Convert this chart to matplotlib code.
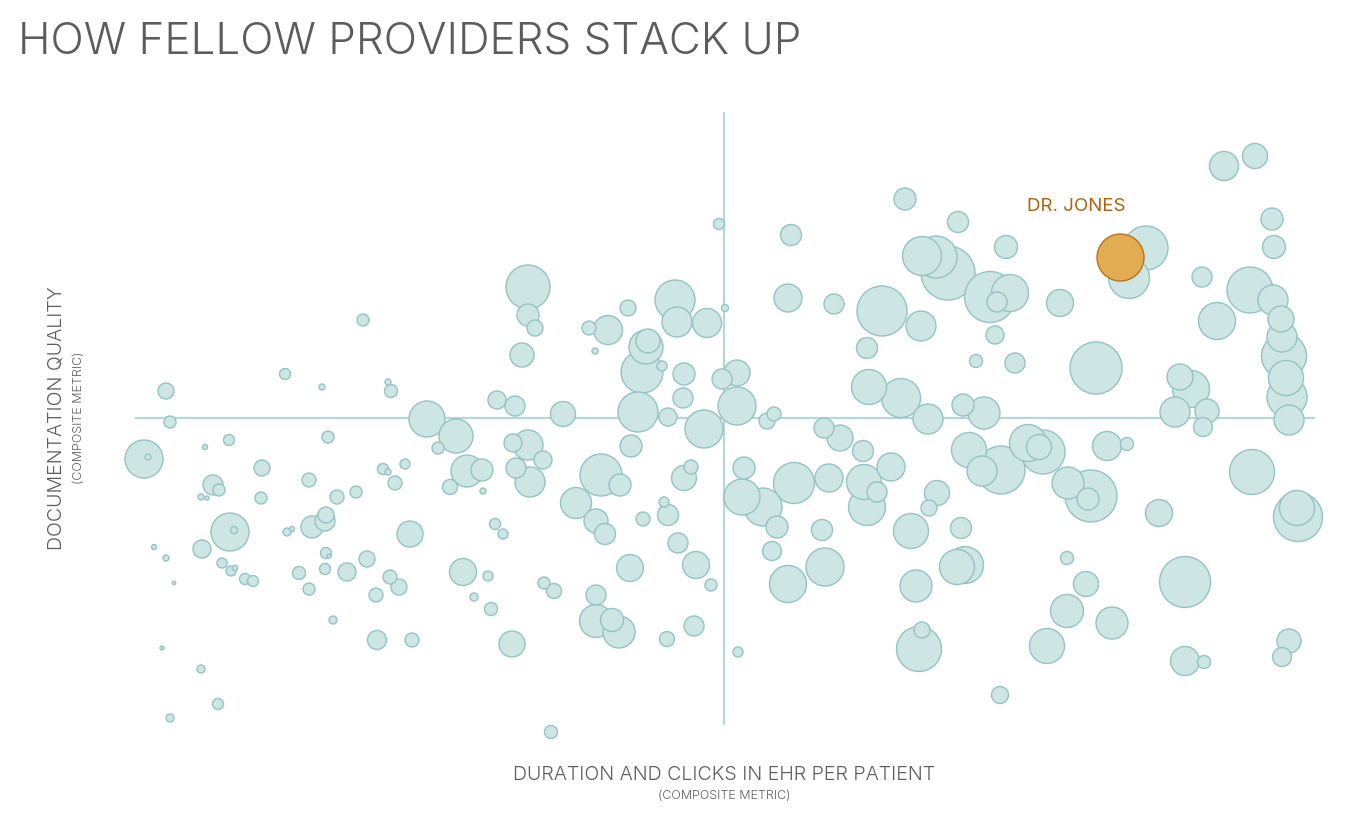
#!/usr/bin/env python3
# -*- coding: utf-8 -*-
"""
Provider comparison bubble chart: EHR effort vs documentation quality.
"""

import numpy as np
import matplotlib
matplotlib.use("Agg")
import matplotlib.pyplot as plt


""" Provider values (composite metrics, centred on the peer median) """
# x : duration and clicks in EHR per patient
ehr_effort = [
    -558, -554, -580, -576, -519, -495, -439, -402, -361, -336,
    -333, -396, -462, -511, -505, -523, -517, -415, -463, -387,
    -368, -341, -336, -319, -329, -297, -268, -286, -257, -242,
    -274, -241, -227, -209, -211, -196, -208, -194, -181, -196,
    -196, -189, -202, -494, -490, -522, -570, -558, -550, -502,
    -493, -489, -479, -471, -562, -523, -506, -554, -437, -432,
    -412, -399, -398, -398, -395, -425, -399, -377, -357, -415,
    -334, -325, -348, -391, -347, -312, -314, -229, -221, -261,
    -236, -250, -233, -212, -5, 1, -96, -135, -116, -129,
    -49, -47, -17, -78, -76, -82, -62, -40, -41, -2,
    13, 13, -20, -56, -86, -161, -93, 43, 50, -123,
    -104, -148, -128, -119, -40, -33, -81, -56, -60, -46,
    -28, -13, -180, -170, -128, -128, -112, -105, -94, -57,
    -30, 14, -173, 67, 64, 110, 181, 234, 282, 198,
    212, 224, 266, 286, 273, 271, 291, 252, 158, 197,
    143, 145, 177, 204, 239, 260, 100, 116, 139, 167,
    140, 153, 143, 105, 70, 20, 18, 39, 53, 98,
    48, 64, 101, 213, 205, 187, 237, 241, 233, 192,
    198, 195, 276, 245, 277, 258, 304, 422, 405, 336,
    372, 500, 531, 548, 550, 478, 526, 549, 493, 557,
    558, 560, 562, 563, 565, 456, 467, 451, 483, 479,
    319, 315, 383, 403, 344, 367, 364, 435, 528, 574,
    573, 343, 362, 343, 388, 323, 461, 461, 480, 565,
    558,
]
# y : documentation quality
doc_quality = [
    27, -4, -41, -39, -29, -22, 44, 31, 98, 36,
    27, -19, -50, -67, -72, -79, -80, -62, -80, -79,
    -74, -51, -54, -46, -65, -1, -18, -30, -53, -52,
    -69, -73, 18, 12, -25, -27, -50, -64, -42, 131,
    103, 90, 63, -114, -112, -131, -129, -140, -165, -145,
    -153, -150, -161, -163, -230, -251, -286, -300, -114, -111,
    -109, -103, -97, -135, -138, -155, -151, -154, -141, -171,
    -159, -169, -177, -202, -222, -222, -116, -106, -116, -154,
    -158, -179, -191, -226, 194, 110, 110, 90, 88, 67,
    118, 96, 95, 71, 77, 46, 52, 44, 20, 39,
    45, 12, -11, 1, 6, 4, -28, -3, 4, -57,
    -67, -85, -103, -116, -60, -49, -101, -97, -84, -125,
    -147, -167, -165, -173, -177, -203, -202, -214, -150, -221,
    -208, -234, -314, 183, 120, 114, 219, 196, 171, 162,
    161, 145, 121, 125, 116, 83, 55, 57, 107, 92,
    70, 31, 20, -1, 13, 5, -10, -20, -33, -49,
    -64, -74, -89, -60, -65, -50, -79, -89, -109, -112,
    -133, -166, -149, -75, -90, -113, -110, -147, -149, -168,
    -212, -231, -277, -32, -52, -53, -25, 170, 140, 115,
    50, 252, 262, 199, 171, 141, 128, 118, 97, 99,
    81, 62, 40, 21, -2, 41, 29, 6, 7, -9,
    -34, -29, -28, -26, -65, -78, -81, -95, -54, -99,
    -90, -140, -166, -193, -205, -228, -164, -243, -244, -223,
    -239,
]
# bubble size : patient panel
panel_size = [
    8, 6, 19, 3, 2.5, 5.5, 5.5, 3, 6, 3,
    6.5, 6, 8, 10, 6, 3, 2, 7, 6, 7,
    6, 5.5, 3, 5, 7, 18, 17, 6, 16, 11,
    7.5, 3, 9, 10, 9, 15, 10, 15, 9, 22,
    11, 8, 12, 19, 3.5, 9, 2.5, 3, 1.7, 5,
    5, 2.7, 5.5, 5.5, 2, 4, 5.5, 4, 4, 2.5,
    11, 10, 8, 5.5, 2, 6.5, 5.5, 9, 8, 6,
    7, 8, 7, 4, 9.5, 7, 13, 5.5, 5, 13.5,
    5, 4, 6.5, 13, 5.5, 3.5, 8, 7, 14.5, 3,
    20, 15, 14.5, 17, 12, 21, 5, 11, 10, 10,
    13, 19, 19, 9, 20, 12.5, 11, 8, 7, 21,
    11, 15.5, 12, 10.5, 12.5, 7, 7, 10.5, 5, 10,
    13.5, 6, 6, 7.5, 10, 16.5, 11.5, 16, 13.5, 7.5,
    10, 5, 6.5, 10.5, 14, 10, 11, 10.5, 11.5, 19.5,
    21, 27, 25.5, 18.5, 10, 9, 10, 6.5, 25, 15,
    10.5, 17.5, 19.5, 15, 11, 16, 10, 13, 10.5, 14,
    17.5, 10, 18.5, 14, 20.5, 11, 18, 19, 11, 10.5,
    9.5, 18.5, 19, 12.5, 8, 17.5, 10.5, 18.5, 17.5, 16,
    8, 22.5, 8.5, 17.5, 24, 15, 18.5, 22, 20.5, 13.5,
    26, 14.5, 12.5, 11, 11.5, 10, 23, 15, 18.5, 13,
    15, 22.5, 17.5, 20, 15, 13, 18.5, 15, 12, 9.5,
    22, 12.5, 14.5, 6.5, 16, 26, 11, 13.5, 22.5, 24.5,
    17.5, 6.5, 12.5, 16.5, 16, 17.5, 25.5, 14.5, 6.5, 12,
    9.5,
]

# highlighted provider
focus_name = "DR. JONES"
focus_effort = 396
focus_quality = 161
focus_size = 23.5


def main():
    title = "HOW FELLOW PROVIDERS STACK UP"
    x_label = "DURATION AND CLICKS IN EHR PER PATIENT"
    y_label = "DOCUMENTATION QUALITY"
    sub_label = "(COMPOSITE METRIC)"

    fill = "#cde6e3"
    edge = "#93c3c4"
    guide = "#b4d7d7"
    grey = "#5c5c5c"

    plt.rcParams['font.family'] = ['Inter', 'DejaVu Sans']

    W, H = 1366, 825
    fig = plt.figure(figsize=(W / 100, H / 100), dpi=100)
    # one data unit = one pixel, origin at the peer median
    x0, y0 = 724, 418
    ax = fig.add_axes([0, 0, 1, 1])
    ax.set_xlim(-x0, W - x0)
    ax.set_ylim(y0 - H, y0)
    ax.axis('off')

    # median guides
    ax.hlines(0, -589, 591, color=guide, lw=1.6, zorder=0)
    ax.vlines(0, -307, 306, color=guide, lw=1.6, zorder=0)

    x = np.array(ehr_effort, dtype=float)
    y = np.array(doc_quality, dtype=float)
    r = np.array(panel_size, dtype=float)
    order = np.argsort(-r, kind='stable')
    # radius in px -> marker area in pt^2
    s = (2 * r * 0.72) ** 2
    ax.scatter(x[order], y[order], s=s[order], c=fill, edgecolors=edge,
               linewidths=1.0, zorder=2)

    ax.scatter([focus_effort], [focus_quality], s=[(2 * focus_size * 0.72) ** 2],
               c="#e2ad52", edgecolors="#b8741c", linewidths=1.0, zorder=3)
    ax.text(focus_effort - 44, focus_quality + 46, focus_name, color="#b2620c",
            fontsize=13.5, fontweight=400, ha='center', va='baseline', zorder=4)

    fig.text(18 / W, 1 - 53 / H, title, fontsize=31.6, color=grey,
             ha='left', va='baseline', fontweight=300)
    fig.text(724 / W, 1 - 780 / H, x_label, fontsize=14.1, color=grey,
             ha='center', va='baseline', fontweight=300)
    fig.text(724 / W, 1 - 799 / H, sub_label, fontsize=9, color=grey,
             ha='center', va='baseline', fontweight=300)
    fig.text(57 / W, 1 - 418 / H, y_label, fontsize=14.1, color=grey,
             ha='center', va='center', rotation=90, fontweight=300)
    fig.text(79 / W, 1 - 418 / H, sub_label, fontsize=9, color=grey,
             ha='center', va='center', rotation=90, fontweight=300)

    fig.savefig("out.png", dpi=100)


main()
